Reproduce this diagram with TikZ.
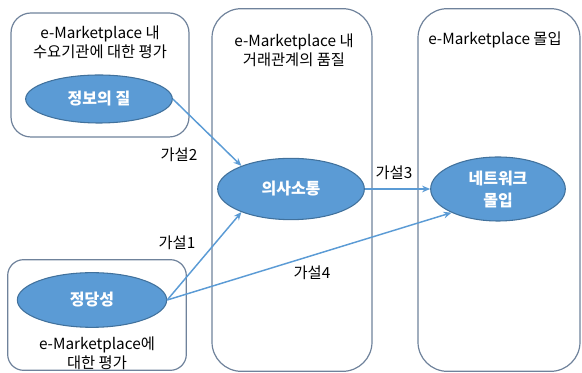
\documentclass[tikz,border=0pt]{standalone}
\usepackage{fontspec}
\setmainfont{Noto Sans CJK KR}
\usetikzlibrary{arrows.meta,shapes.geometric}
\definecolor{grpline}{HTML}{6F829B}
\definecolor{ovfill}{HTML}{5B9BD5}
\definecolor{ovline}{HTML}{41719C}
\definecolor{arrline}{HTML}{5B9BD5}
\tikzset{grp/.style={draw = grpline, line width=0.9pt, rectangle, rounded corners=#1}}
\tikzset{construct/.style={shape=ellipse, fill = ovfill, draw = ovline, line width=0.8pt, text = white, align=center, inner sep=0pt, font=\fontsize{12}{16.5}\selectfont\bfseries}}
\tikzset{hyp/.style={draw = arrline, line width=1.1pt, -{Stealth[length=6pt,width=5pt]}}}
\tikzset{title/.style={align=center, font=\fontsize{11.5}{14.5}\selectfont}}

\begin{document}
\begin{tikzpicture}[x=0.75pt, y=-0.75pt, font=\fontsize{11.5}{14.5}\selectfont]
  \useasboundingbox (0,0) rectangle (582,373);

  % groups
  \node (demand) [grp=15pt, minimum width=133.5pt, minimum height=93pt] at (100,75) {};
  \node (legit) [grp=12pt, minimum width=134pt, minimum height=83pt] at (97,315) {};
  \node (quality) [grp=22pt, minimum width=120pt, minimum height=272pt] at (292,190) {};
  \node (commit) [grp=22pt, minimum width=121.5pt, minimum height=272pt] at (499,190) {};

  \node (demandT) [title] at (100,42) {e-Marketplace 내\\수요기관에 대한 평가};
  \node (legitT) [title] at (97,353) {e-Marketplace에\\대한 평가};
  \node (qualityT) [title] at (294,50) {e-Marketplace 내\\거래관계의 품질};
  \node (commitT) [title] at (495,40) {e-Marketplace 몰입};

  % constructs
  \node (info) [construct, minimum width=110pt, minimum height=36pt] at (99,99) {정보의 질};
  \node (just) [construct, minimum width=112pt, minimum height=41pt] at (92,300) {정당성};
  \node (comm) [construct, minimum width=110pt, minimum height=46pt] at (291,189) {의사소통};
  \node (net) [construct, minimum width=101pt, minimum height=48pt] at (498,189) {네트워크\\몰입};

  % hypotheses
  \path (info.east) edge [hyp] (comm.155);
  \path (just.east) edge [hyp] (comm.205);
  \path (comm.east) edge [hyp] (net.west);
  \path (just.east) edge [hyp] (net.207);

  \node (h1) at (177,243) {가설1};
  \node (h2) at (179,155) {가설2};
  \node (h3) at (394,173) {가설3};
  \node (h4) at (312,273) {가설4};
\end{tikzpicture}
\end{document}
